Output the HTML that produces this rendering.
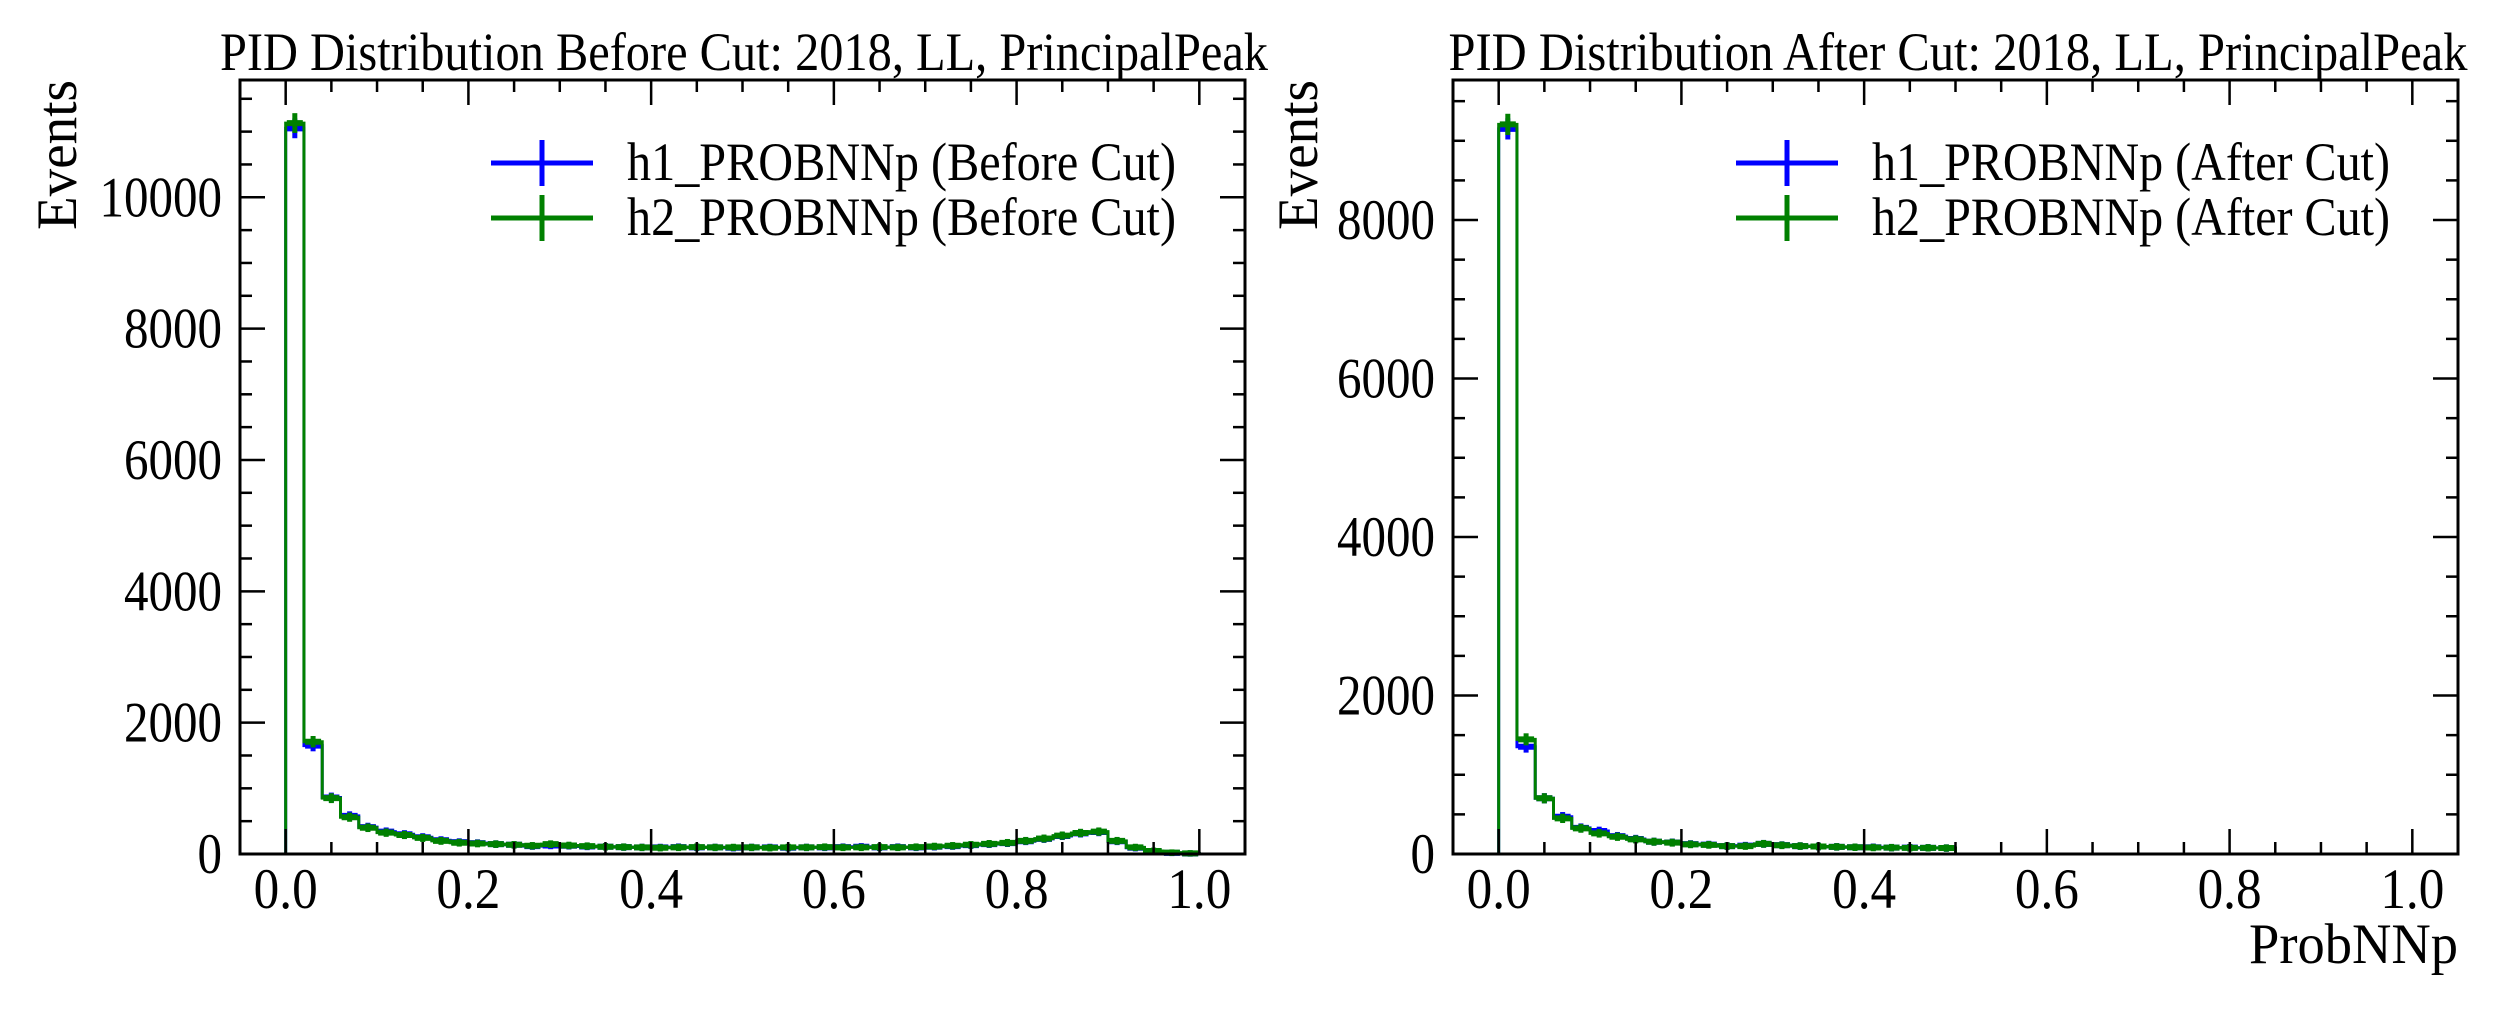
<!DOCTYPE html>
<html><head><meta charset="utf-8"><style>
html,body{margin:0;padding:0;background:#fff;}
svg{display:block;}
text{font-family:"Liberation Serif","DejaVu Serif",serif;fill:#000;}
</style></head>
<body>
<svg id="fig" width="2500" height="1012" viewBox="0 0 2500 1012" xmlns="http://www.w3.org/2000/svg"></svg>
<script>
// ---- data ----
const binEdgesStart = 0.0;
const binWidth = 0.02;
const beforeH1 = [11050,1650,860,580,410,340,300,255,210,180,165,150,140,120,130,125,115,110,105,100,100,105,100,100,95,100,100,95,100,100,105,110,100,105,100,110,120,135,150,165,195,230,275,315,335,195,95,40,18,8];
const beforeH2 = [11130,1710,850,560,400,325,290,245,200,172,160,150,140,125,150,130,120,110,105,100,95,100,105,100,100,100,95,100,100,105,100,100,105,100,105,115,125,140,155,170,200,235,280,320,340,200,100,45,20,10];
const afterH1 = [9150,1354,703,470,330,290,225,190,155,145,125,118,100,105,128,112,100,95,90,85,85,80,80,78,75];
const afterH2 = [9207,1447,703,450,324,261,218,185,155,143,122,115,100,100,128,110,100,95,90,85,82,80,78,78,75];
const xTickLabels = ["0.0","0.2","0.4","0.6","0.8","1.0"];
const xTickValues = [0,0.2,0.4,0.6,0.8,1.0];
const leftYTicks = [0,2000,4000,6000,8000,10000];
const rightYTicks = [0,2000,4000,6000,8000];

const svg = document.getElementById('fig');
const NS = 'http://www.w3.org/2000/svg';
function mk(tag, attrs, parent){
  const e = document.createElementNS(NS, tag);
  for (const k in attrs) e.setAttribute(k, attrs[k]);
  (parent||svg).appendChild(e);
  return e;
}

function panel(cfg){
  const g = mk('g', {});
  
  
  const L=cfg.left, R=cfg.right, T=80, B=854;
  const xmin=-0.05, xmax=1.05;
  const X = v => L + (v - xmin)/(xmax - xmin)*(R - L);
  const Y = v => B - v/cfg.ymax*(B - T);

  const series = [
    {vals: cfg.h1, color:'#0000ff', name:'h1-histogram'},
    {vals: cfg.h2, color:'#008000', name:'h2-histogram'}
  ];
  series.forEach(s=>{
    const sg = mk('g', {}, g);
    
    
    let d = '';
    const n = Math.min(s.vals.length, cfg.nbins);
    for (let i=0;i<n;i++){
      const v = s.vals[i];
      const x0 = X(binEdgesStart + i*binWidth), x1 = X(binEdgesStart + (i+1)*binWidth);
      if (i===0) d += `M${x0},${Y(0)} L${x0},${Y(v)} `;
      else d += `L${x0},${Y(v)} `;
      d += `L${x1},${Y(v)} `;
    }
    d += `L${X(binEdgesStart + n*binWidth)},${Y(0)}`;
    const p = mk('path', {d:d, fill:'none', stroke:s.color, 'stroke-width':3}, sg);
    
    
    for (let i=0;i<n;i++){
      const v = s.vals[i];
      if (v<=0) continue;
      const xc = X(binEdgesStart + (i+0.5)*binWidth);
      const err = Math.sqrt(v);
      const eb = mk('line', {x1:xc, x2:xc, y1:Y(v-err)+3, y2:Y(v+err)-3, stroke:s.color, 'stroke-width':5}, sg);
      
      
      const cap = mk('line', {x1:xc-8, x2:xc+8, y1:Y(v), y2:Y(v), stroke:s.color, 'stroke-width':6}, sg);
      
      
    }
  });

  const fr = mk('rect', {x:L, y:T, width:R-L, height:B-T, fill:'none', stroke:'#000', 'stroke-width':3}, g);
  
  

  for (let k=-1;k<=21;k++){
    const v = k*0.05;
    if (v < xmin-1e-9 || v > xmax+1e-9) continue;
    const major = (k%4===0);
    const len = major?25:12;
    const x = X(v);
    mk('line',{x1:x,x2:x,y1:B,y2:B-len,stroke:'#000','stroke-width':2.5},g);
    mk('line',{x1:x,x2:x,y1:T,y2:T+len,stroke:'#000','stroke-width':2.5},g);
  }
  xTickValues.forEach((v,i)=>{
    const t = mk('text',{x:X(v), y:908, 'font-size':57, 'text-anchor':'middle', textLength:64, lengthAdjust:'spacingAndGlyphs'}, g);
    t.textContent = xTickLabels[i];
    
    
  });
  for (let v=0; v<=cfg.ymax; v+=500){
    const major = (v%2000===0);
    const len = major?25:12;
    const y = Y(v);
    mk('line',{x1:L,x2:L+len,y1:y,y2:y,stroke:'#000','stroke-width':2.5},g);
    mk('line',{x1:R,x2:R-len,y1:y,y2:y,stroke:'#000','stroke-width':2.5},g);
  }
  cfg.yticks.forEach(v=>{
    const s = String(v);
    const t = mk('text',{x:L-18, y:Y(v)+19, 'font-size':57, 'text-anchor':'end', textLength:s.length*24.5, lengthAdjust:'spacingAndGlyphs'}, g);
    t.textContent = s;
    
    
  });
  const yl = mk('text',{x:0,y:0,'font-size':57,'text-anchor':'end',textLength:150,lengthAdjust:'spacingAndGlyphs',transform:`translate(${cfg.ylabelX},${T}) rotate(-90)`}, g);
  yl.textContent = 'Events';
  
  
  const tt = mk('text',{x:cfg.titleX, y:70, 'font-size':54, 'text-anchor':'middle', textLength:cfg.titleW, lengthAdjust:'spacingAndGlyphs'}, g);
  tt.textContent = cfg.title;
  
  
  const lg = mk('g',{},g);
  
  
  [[cfg.leg1,'#0000ff',163],[cfg.leg2,'#008000',218]].forEach(([lab,col,y])=>{
    const eg = mk('g',{},lg);
    
    
    mk('line',{x1:cfg.legX,x2:cfg.legX+102,y1:y,y2:y,stroke:col,'stroke-width':5},eg);
    mk('line',{x1:cfg.legX+51,x2:cfg.legX+51,y1:y-23,y2:y+23,stroke:col,'stroke-width':5},eg);
    const t = mk('text',{x:cfg.legTX, y:y+17, 'font-size':54, textLength:cfg.legTW, lengthAdjust:'spacingAndGlyphs'},eg);
    t.textContent = lab;
  });
}

panel({name:'before-cut-panel', left:240, right:1245, ymax:11786, nbins:50, h1:beforeH1, h2:beforeH2, yticks:leftYTicks,
  ylabelX:76, title:'PID Distribution Before Cut: 2018, LL, PrincipalPeak', titleX:744, titleW:1048,
  leg1:'h1_PROBNNp (Before Cut)', leg2:'h2_PROBNNp (Before Cut)', legX:491, legTX:627, legTW:549});
panel({name:'after-cut-panel', left:1453, right:2458, ymax:9767, nbins:50, h1:afterH1, h2:afterH2, yticks:rightYTicks,
  ylabelX:1317, title:'PID Distribution After Cut: 2018, LL, PrincipalPeak', titleX:1958, titleW:1019,
  leg1:'h1_PROBNNp (After Cut)', leg2:'h2_PROBNNp (After Cut)', legX:1736, legTX:1872, legTW:518});

const xl = mk('text',{x:2458, y:963, 'font-size':57, 'text-anchor':'end', textLength:209, lengthAdjust:'spacingAndGlyphs'});
xl.textContent = 'ProbNNp';


</script>
</body></html>
